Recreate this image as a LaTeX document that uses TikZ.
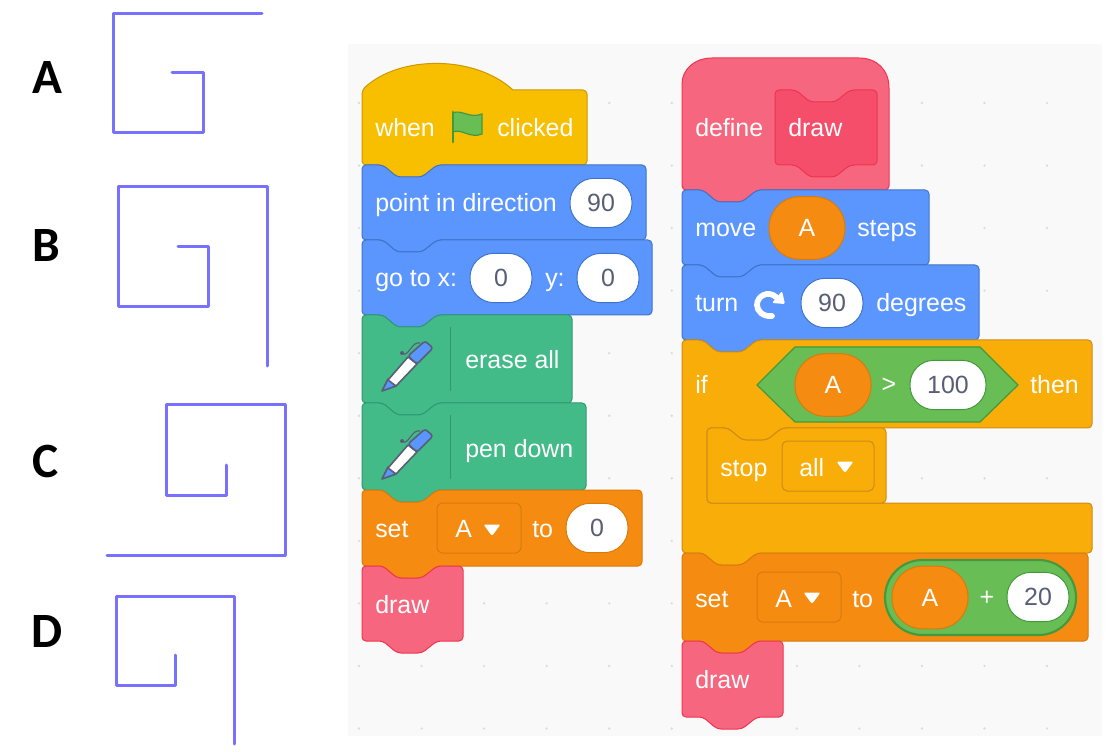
\documentclass[tikz,border=0pt]{standalone}
\usepackage{fontspec}
\setmainfont{Liberation Sans}
\newfontfamily\letterfont{Carlito}
\definecolor{spiral}{HTML}{7870FF}
\definecolor{bgpanel}{HTML}{F9F9F9}
\definecolor{griddot}{HTML}{DCDCDC}
\definecolor{hatfill}{HTML}{F8BE00}
\definecolor{hatedge}{HTML}{CC9900}
\definecolor{motionfill}{HTML}{5B96FF}
\definecolor{motionedge}{HTML}{3F74C8}
\definecolor{penfill}{HTML}{42BB88}
\definecolor{penedge}{HTML}{2F9A70}
\definecolor{varfill}{HTML}{F68B12}
\definecolor{varedge}{HTML}{D87A0C}
\definecolor{myfill}{HTML}{F6677F}
\definecolor{myedge}{HTML}{F0334F}
\definecolor{innerfill}{HTML}{F54E6B}
\definecolor{inneredge}{HTML}{F0334F}
\definecolor{ctrlfill}{HTML}{F8AD08}
\definecolor{ctrledge}{HTML}{CF8B17}
\definecolor{opfill}{HTML}{68BD55}
\definecolor{opedge}{HTML}{45993D}
\definecolor{numtext}{HTML}{575E75}
\tikzset{
 block/.style={draw=#1edge, fill=#1fill, line width=0.75pt, rounded corners=3pt},
 blocktext/.style={anchor=base west, inner sep=0pt, text=white, font=\fontsize{18.7}{22}\selectfont},
 numpill/.style={draw=#1, fill=white, rounded corners=18pt, inner sep=0pt, text=numtext,
   minimum width=46.5pt, minimum height=37pt, line width=0.75pt, font=\fontsize{18.7}{22}\selectfont},
 varoval/.style={draw=varedge, fill=varfill, rounded corners=23pt, inner sep=0pt, text=white,
   minimum width=57pt, minimum height=47pt, line width=0.75pt, font=\fontsize{18.7}{22}\selectfont},
 dropbox/.style={draw=#1, line width=0.75pt, rounded corners=4pt},
 opsign/.style={inner sep=0pt, text=white, font=\fontsize{18.7}{22}\selectfont},
 spiralline/.style={draw=spiral, line width=2.25pt, line join=round, line cap=round},
 letter/.style={inner sep=0pt, text=black, font=\letterfont\bfseries\fontsize{37}{40}\selectfont}
}
% x0, top, right, bottom
\newcommand{\stackblock}[5]{%
 \draw[block=#1] (#2,#3+20) -- (#2,#3) -- (#2+21,#3) -- (#2+35,#3+12) -- (#2+60,#3+12) -- (#2+75,#3)
   -- (#4,#3) -- (#4,#5) -- (#2+75,#5) -- (#2+60,#5+12) -- (#2+35,#5+12) -- (#2+21,#5) -- (#2,#5) -- cycle;
}
\newcommand{\dropmark}[2]{%
 \fill[white, rounded corners=1.5pt] (#1-8.5,#2-5.5) -- (#1+8.5,#2-5.5) -- (#1,#2+6) -- cycle;
}
\newcommand{\penicon}[1]{%
 \begin{scope}[shift={(0,#1)}]
 \draw[numtext, line width=0.8pt] (420,343) .. controls (412,341) and (409,356) .. (403,354);
 \fill[numtext] (402,353) circle (2);
 \draw[numtext, fill=motionfill, line width=1.2pt, line join=round] (382,391) -- (388,379) -- (396,386) -- cycle;
 \draw[numtext, fill=white, line width=1.2pt, line join=round] (388,380) -- (408,357) -- (417,364) -- (396,386) -- cycle;
 \draw[numtext, fill=motionfill, line width=1.2pt, rounded corners=2pt] (408,356) -- (425,341) -- (433,348) -- (417,364) -- cycle;
 \draw[penedge, line width=0.75pt] (450.5,327) -- (450.5,391);
 \end{scope}
}
\begin{document}
\begin{tikzpicture}[x=0.75pt, y=-0.75pt]
\useasboundingbox (0,0) rectangle (1111,752);
\fill[white] (0,0) rectangle (1111,752);
\fill[bgpanel] (348,44) rectangle (1102,736);
\foreach \i in {0,...,11}
 \foreach \j in {0,...,10}
  \fill[griddot] (359+62.55*\i,103+62.55*\j) circle (1.3);

\node[letter] (letterA) at (47,78) {A};
\node[letter] (letterB) at (46,246) {B};
\node[letter] (letterC) at (46,461) {C};
\node[letter] (letterD) at (47,632) {D};
\draw[spiralline] (262,14) -- (113,14) -- (113,133) -- (203,133) -- (203,73) -- (172,73);
\draw[spiralline] (267,366) -- (267,187) -- (118,187) -- (118,307) -- (208,307) -- (208,247) -- (178,247);
\draw[spiralline] (107,555) -- (285,555) -- (285,405) -- (166,405) -- (166,495) -- (226,495) -- (226,465);
\draw[spiralline] (234,744) -- (234,596) -- (116,596) -- (116,685) -- (175,685) -- (175,655);

\draw[block=hat] (362,110) -- (362,90) [sharp corners] .. controls (400,55) and (475,55) .. (513,90) [rounded corners=3pt]
   -- (587,90) -- (587,165) -- (437,165) -- (422,177) -- (397,177) -- (383,165) -- (362,165) -- cycle;
\fill[opfill, draw=opedge, line width=0.9pt] (453,113) .. controls (461,109) and (470,119) .. (482,114) -- (482,134)
   .. controls (470,139) and (461,128) .. (453,132) -- cycle;
\draw[opedge, line width=2.2pt, line cap=round] (453,112) -- (453,142);
\node[blocktext] (whentxt) at (375,137) {when};
\node[blocktext] (clickedtxt) at (497,137) {clicked};

\stackblock{motion}{362}{165}{646}{240}
\node[blocktext] (pointtxt) at (375,212) {point in direction};
\node[numpill=motionedge] (dirval) at (601,203) {90};

\stackblock{motion}{362}{240}{652}{315}
\node[blocktext] (gototxt) at (375,287) {go to x:};
\node[numpill=motionedge] (xval) at (501,278) {0};
\node[blocktext] (ytxt) at (545,287) {y:};
\node[numpill=motionedge] (yval) at (608,278) {0};

\stackblock{pen}{362}{315}{572}{403}
\penicon{0}
\node[blocktext] (erasetxt) at (465,369) {erase all};

\stackblock{pen}{362}{403}{586}{490}
\penicon{88}
\node[blocktext] (pendowntxt) at (465,457) {pen down};

\stackblock{var}{362}{490}{642}{566}
\node[blocktext] (settxt) at (375,537) {set};
\draw[dropbox=varedge] (437,503) rectangle (521,553);
\node[blocktext] (setvar) at (455,537) {A};
\dropmark{492}{530}
\node[blocktext] (totxt) at (532,537) {to};
\node[numpill=varedge] (setval) at (597,528) {0};

\stackblock{my}{362}{566}{463}{641}
\node[blocktext] (drawtxt) at (375,613) {draw};

\draw[block=my] (682,110) -- (682,88) [sharp corners] .. controls (682,70) and (694,58) .. (712,58) -- (859,58)
   .. controls (877,58) and (889,70) .. (889,88) [rounded corners=3pt]
   -- (889,190) -- (757,190) -- (742,202) -- (717,202) -- (703,190) -- (682,190) -- cycle;
\node[blocktext] (definetxt) at (695,137) {define};
\stackblock{inner}{775}{90}{877}{165}
\node[blocktext] (defdrawtxt) at (788,137) {draw};

\stackblock{motion}{682}{190}{929}{265}
\node[blocktext] (movetxt) at (695,237) {move};
\node[varoval] (moveval) at (807,228) {A};
\node[blocktext] (stepstxt) at (857,237) {steps};

\stackblock{motion}{682}{265}{979}{340}
\node[blocktext] (turntxt) at (695,312) {turn};
\draw[white, line width=4.3pt, line cap=round] (772,316) .. controls (763,317) and (757,311) .. (757,305)
   .. controls (757,296) and (768,290) .. (776,297);
\fill[white, rounded corners=1pt] (782,291) -- (785,304) -- (772,303) -- cycle;
\node[numpill=motionedge] (turnval) at (832,303) {90};
\node[blocktext] (degreestxt) at (876,312) {degrees};

\draw[block=ctrl] (682,360) -- (682,340) -- (703,340) -- (717,352) -- (742,352) -- (757,340) -- (1092,340) -- (1092,428)
   -- (782,428) -- (767,440) -- (742,440) -- (728,428) -- (707,428) -- (707,503) -- (1092,503) -- (1092,553)
   -- (757,553) -- (742,565) -- (717,565) -- (703,553) -- (682,553) -- cycle;
\node[blocktext] (iftxt) at (695,394) {if};
\draw[draw=opedge, fill=opfill, line width=0.9pt, line join=round] (757,385) -- (795,347) -- (980,347) -- (1018,385) -- (980,422) -- (795,422) -- cycle;
\node[varoval] (ifvar) at (833,385) {A};
\node[opsign] (gtsign) at (889,385) {>};
\node[numpill=opedge, minimum width=57pt] (ifval) at (948,385) {100};
\node[blocktext] (thentxt) at (1030,394) {then};

\draw[block=ctrl] (707,450) -- (707,428) -- (728,428) -- (742,440) -- (767,440) -- (782,428) -- (886,428) -- (886,503) -- (707,503) -- cycle;
\node[blocktext] (stoptxt) at (720,476) {stop};
\draw[dropbox=ctrledge] (782,441) rectangle (874,491);
\node[blocktext] (stopall) at (799,476) {all};
\dropmark{845}{467}

\stackblock{var}{682}{553}{1088}{641}
\node[blocktext] (settwotxt) at (695,607) {set};
\draw[dropbox=varedge] (757,572) rectangle (841,622);
\node[blocktext] (settwovar) at (775,607) {A};
\dropmark{812}{598}
\node[blocktext] (totwotxt) at (852,607) {to};
\draw[draw=opedge, fill=opfill, line width=1.6pt, rounded corners=28pt] (885,560) rectangle (1076,635);
\node[varoval] (sumvar) at (930,597.5) {A};
\node[opsign] (plussign) at (987,598) {+};
\node[numpill=opedge] (sumval) at (1038,597) {20};

\stackblock{my}{682}{641}{783}{717}
\node[blocktext] (drawtwotxt) at (695,688) {draw};
\end{tikzpicture}
\end{document}
